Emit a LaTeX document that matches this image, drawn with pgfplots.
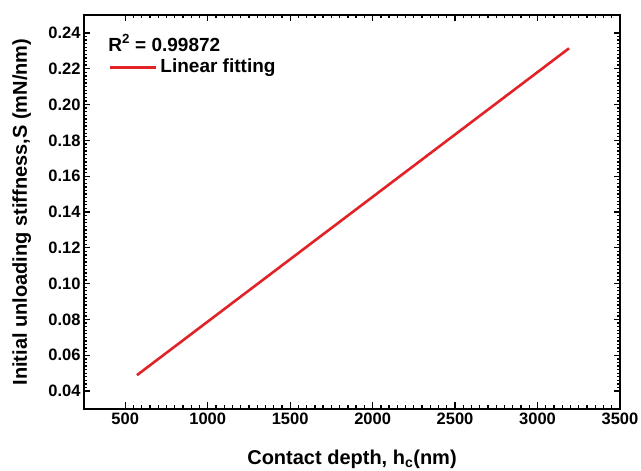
\documentclass[border=0pt]{standalone}
\usepackage{pgfplots}
\pgfplotsset{compat=1.18}
\usepackage{fontspec}
\setmainfont{Liberation Sans}
\definecolor{starblue}{RGB}{52,68,168}
\definecolor{fitred}{RGB}{225,35,40}
\begin{document}
\begin{tikzpicture}
\begin{axis}[
  scale only axis,
  width=536bp, height=394bp,
  xmin=250, xmax=3500, ymin=0.03, ymax=0.25,
  xtick={500,1000,...,3500},
  ytick={0.04,0.06,...,0.241},
  minor x tick num=9,
  minor y tick num=9,
  tick label style={font=\fontsize{16.5bp}{20bp}\selectfont\bfseries, /pgf/number format/assume math mode=true},
  yticklabel style={/pgf/number format/fixed,/pgf/number format/fixed zerofill,/pgf/number format/precision=2},
  xticklabel style={/pgf/number format/set thousands separator={}},
  scaled y ticks=false,
  tick align=inside,
  major tick length=6.5bp,
  minor tick length=3.5bp,
  tick style={black, line width=1.3bp},
  axis line style={line width=2.4bp},
]
\addplot[color=fitred, line width=2.6bp] coordinates {(571,0.0489) (3191,0.2314)};
\coordinate (sw) at (rel axis cs:0,0);
\coordinate (rtxt) at (rel axis cs:0.045,0.929);
\coordinate (lgd) at (rel axis cs:0.049,0.866);
\end{axis}
\node[anchor=west, inner sep=0pt, font=\fontsize{19bp}{22bp}\selectfont\bfseries] at (rtxt) {R\textsuperscript{2} = 0.99872};
\draw[fitred, line width=2.6bp] (lgd) -- ++(46bp,0bp);
\node[anchor=west, inner sep=0pt, font=\fontsize{19bp}{22bp}\selectfont\bfseries] at ([xshift=50bp]lgd) {Linear fitting};
\node[font=\fontsize{20bp}{24bp}\selectfont\bfseries] at ([yshift=-50.4bp]current axis.south) {Contact depth, h\textsubscript{c}(nm)};
\node[rotate=90, font=\fontsize{20bp}{24bp}\selectfont\bfseries] at ([xshift=-62.2bp]current axis.west) {Initial unloading stiffness,S (mN/nm)};
\pgfresetboundingbox
\path[use as bounding box] ([shift={(-84bp,-62bp)}]sw) rectangle ++(641bp,471bp);
\end{tikzpicture}
\end{document}
